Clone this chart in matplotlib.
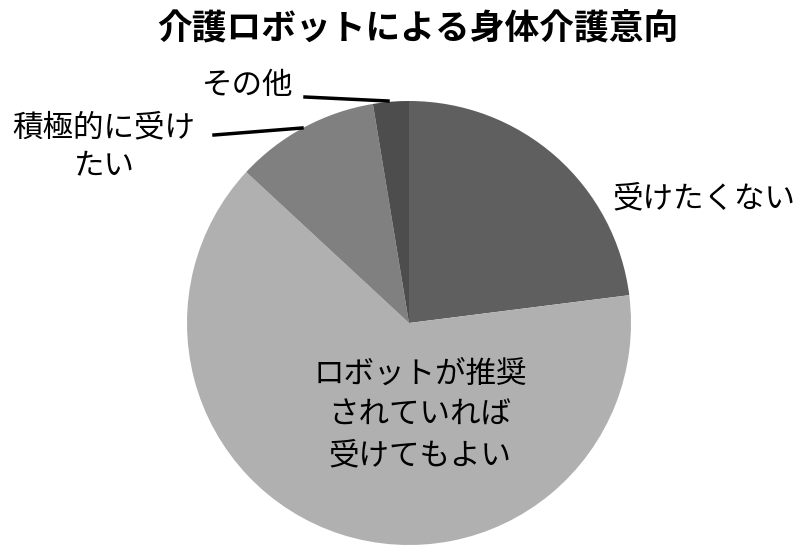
import matplotlib
matplotlib.use("Agg")
import matplotlib.pyplot as plt

plt.rcParams['font.family'] = ['Noto Sans CJK JP', 'DejaVu Sans']

# data (share in %, clockwise from 12 o'clock)
labels = ["受けたくない", "ロボットが推奨\nされていれば\n受けてもよい", "積極的に受け\nたい", "その他"]
values = [23.0, 63.9, 10.5, 2.6]
colors = ["#5f5f5f", "#b0b0b0", "#808080", "#4d4d4d"]
title = "介護ロボットによる身体介護意向"

W, H = 800, 551
fig = plt.figure(figsize=(W / 100, H / 100), dpi=100)
ax = fig.add_axes([0, 0, 1, 1])

# pie drawn in pixel-like units, y measured from the bottom
ax.pie(values, colors=colors, startangle=90, counterclock=False,
       center=(409, H - 323), radius=222,
       wedgeprops=dict(linewidth=0))
ax.set_xlim(0, W)
ax.set_ylim(0, H)
ax.set_aspect("equal")
ax.axis("off")

fs = 22
ax.text(418, H - 29, title, ha="center", va="center", fontsize=25, fontweight="bold")
ax.text(612, H - 199, labels[0], ha="left", va="center", fontsize=fs)
ax.text(420, H - 415, labels[1], ha="center", va="center", fontsize=fs, linespacing=1.4)
ax.text(104, H - 147, labels[2], ha="center", va="center", fontsize=fs, linespacing=1.3)
ax.text(248, H - 86, labels[3], ha="center", va="center", fontsize=fs)

# leader lines
ax.plot([305, 388], [H - 97, H - 101], color="black", lw=2.5)
ax.plot([214, 302], [H - 135, H - 128], color="black", lw=2.5)

fig.savefig("out.png", dpi=100, facecolor="white")
